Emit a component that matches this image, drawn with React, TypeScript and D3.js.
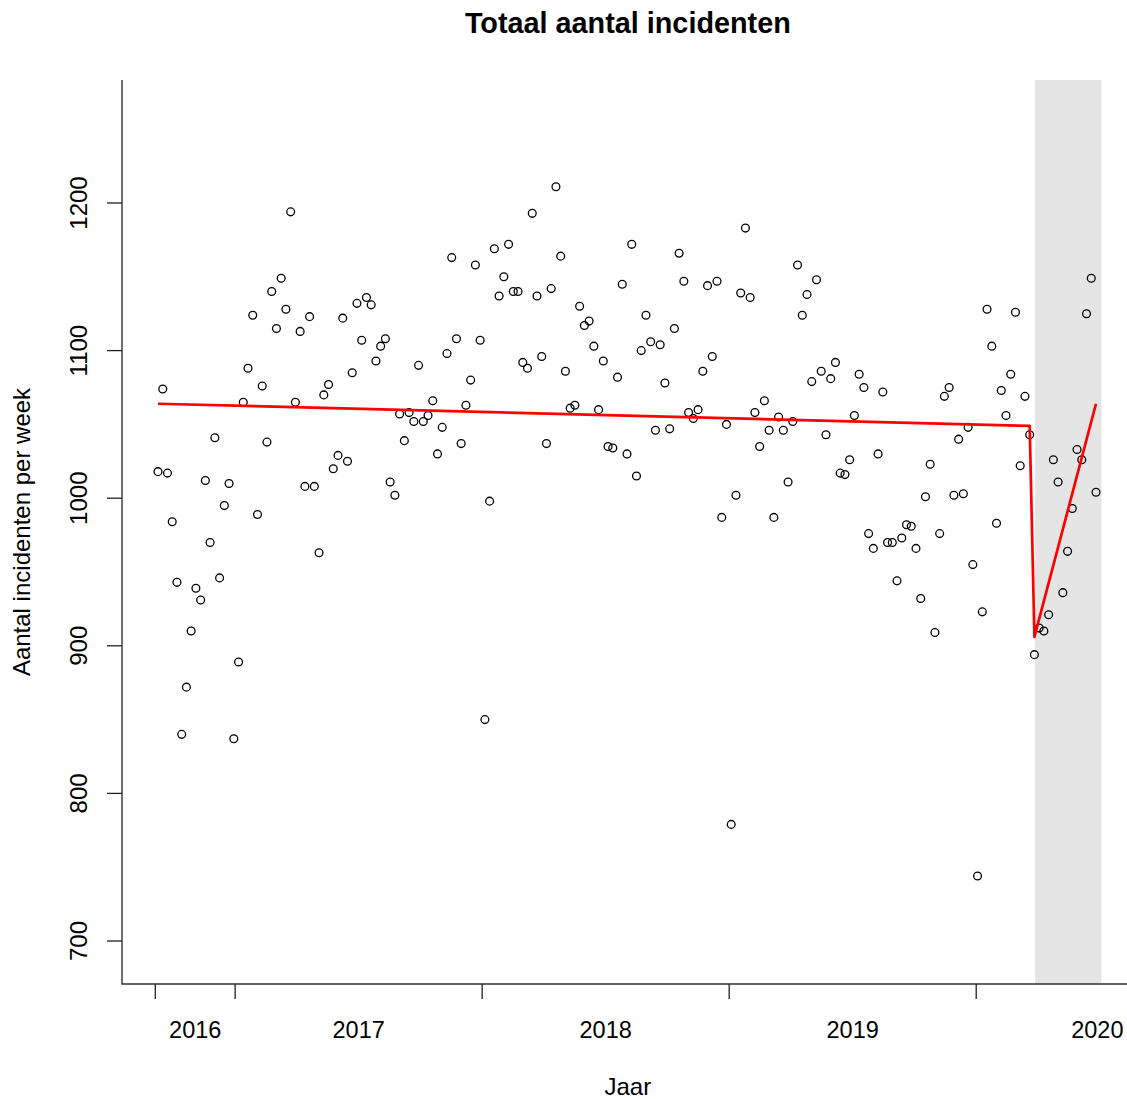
import React, { useEffect, useRef } from "react";
import * as d3 from "d3";

// weekly incident counts (Sep 2016 - Jun 2020)
const weeklyIncidents = [
  1018, 1074, 1017, 984, 943, 840, 872, 910, 939, 931,
  1012, 970, 1041, 946, 995, 1010, 837, 889, 1065, 1088,
  1124, 989, 1076, 1038, 1140, 1115, 1149, 1128, 1194, 1065,
  1113, 1008, 1123, 1008, 963, 1070, 1077, 1020, 1029, 1122,
  1025, 1085, 1132, 1107, 1136, 1131, 1093, 1103, 1108, 1011,
  1002, 1057, 1039, 1058, 1052, 1090, 1052, 1056, 1066, 1030,
  1048, 1098, 1163, 1108, 1037, 1063, 1080, 1158, 1107, 850,
  998, 1169, 1137, 1150, 1172, 1140, 1140, 1092, 1088, 1193,
  1137, 1096, 1037, 1142, 1211, 1164, 1086, 1061, 1063, 1130,
  1117, 1120, 1103, 1060, 1093, 1035, 1034, 1082, 1145, 1030,
  1172, 1015, 1100, 1124, 1106, 1046, 1104, 1078, 1047, 1115,
  1166, 1147, 1058, 1054, 1060, 1086, 1144, 1096, 1147, 987,
  1050, 779, 1002, 1139, 1183, 1136, 1058, 1035, 1066, 1046,
  987, 1055, 1046, 1011, 1052, 1158, 1124, 1138, 1079, 1148,
  1086, 1043, 1081, 1092, 1017, 1016, 1026, 1056, 1084, 1075,
  976, 966, 1030, 1072, 970, 970, 944, 973, 982, 981,
  966, 932, 1001, 1023, 909, 976, 1069, 1075, 1002, 1040,
  1003, 1048, 955, 744, 923, 1128, 1103, 983, 1073, 1056,
  1084, 1126, 1022, 1069, 1043, 894, 912, 910, 921, 1026,
  1011, 936, 964, 993, 1033, 1026, 1125, 1149, 1004,
];

// segmented trend (week index -> fitted value)
const trendWeeks = [0, 184, 185, 198];
const trendValues = [1064, 1049, 906, 1064];

const firstWeek = "2016-09-09";
const yearTicks = ["2016-09-05", "2017-01-01", "2018-01-01", "2019-01-01", "2020-01-01"];
const yearEnd = "2020-12-24";
const yearLabels = ["2016", "2017", "2018", "2019", "2020"];
const yTicks = [700, 800, 900, 1000, 1100, 1200];
const lockdownPeriod = ["2020-03-28", "2020-07-04"];

const font = "'Liberation Sans', Arial, Helvetica, sans-serif";

const App = () => {
  const ref = useRef(null);

  useEffect(() => {
    const width = 1127;
    const height = 1099;
    const box = { left: 122, right: 1136, top: 80, bottom: 984 };

    const parse = d3.timeParse("%Y-%m-%d");
    const start = parse(firstWeek);
    const weekDate = (i) => d3.timeDay.offset(start, i * 7);

    const svg = d3.select(ref.current);
    svg.selectAll("*").remove();
    svg.attr("width", width).attr("height", height);

    const x_scale = d3
      .scaleTime()
      .domain([weekDate(0), weekDate(weeklyIncidents.length - 1)])
      .range([158, 1096]);

    const y_scale = d3.scaleLinear().domain([700, 1200]).range([941, 203]);

    // lockdown band
    svg
      .append("rect")
      .attr("x", x_scale(parse(lockdownPeriod[0])))
      .attr("y", box.top)
      .attr("width", x_scale(parse(lockdownPeriod[1])) - x_scale(parse(lockdownPeriod[0])))
      .attr("height", box.bottom - box.top)
      .attr("fill", "#e5e5e5");

    svg
      .append("g")
      .selectAll("circle")
      .data(weeklyIncidents)
      .enter()
      .append("circle")
      .attr("cx", (d, i) => x_scale(weekDate(i)))
      .attr("cy", (d) => y_scale(d))
      .attr("r", 3.9)
      .attr("fill", "none")
      .attr("stroke", "#000")
      .attr("stroke-width", 1.3);

    const line = d3
      .line()
      .x((d) => x_scale(weekDate(d[0])))
      .y((d) => y_scale(d[1]));

    svg
      .append("path")
      .attr("d", line(trendWeeks.map((w, i) => [w, trendValues[i]])))
      .attr("fill", "none")
      .attr("stroke", "#ff0000")
      .attr("stroke-width", 2.7)
      .attr("stroke-linejoin", "round");

    // L-shaped box
    svg
      .append("path")
      .attr("d", `M${box.left},${box.top}V${box.bottom}H${box.right}`)
      .attr("fill", "none")
      .attr("stroke", "#333")
      .attr("stroke-width", 1.4);

    // x ticks and labels
    const tickDates = yearTicks.map(parse);
    svg
      .append("g")
      .selectAll("line")
      .data(tickDates)
      .enter()
      .append("line")
      .attr("x1", (d) => x_scale(d))
      .attr("x2", (d) => x_scale(d))
      .attr("y1", box.bottom)
      .attr("y2", box.bottom + 15)
      .attr("stroke", "#222")
      .attr("stroke-width", 1.3);

    const bounds = [...tickDates, parse(yearEnd)];
    svg
      .append("g")
      .selectAll("text")
      .data(yearLabels)
      .enter()
      .append("text")
      .attr("x", (d, i) => (x_scale(bounds[i]) + x_scale(bounds[i + 1])) / 2)
      .attr("y", 1038)
      .attr("text-anchor", "middle")
      .attr("font-family", font)
      .attr("font-size", 23.5)
      .attr("fill", "#000")
      .text((d) => d);

    // y ticks and labels
    svg
      .append("g")
      .selectAll("line")
      .data(yTicks)
      .enter()
      .append("line")
      .attr("x1", box.left - 15)
      .attr("x2", box.left)
      .attr("y1", (d) => y_scale(d))
      .attr("y2", (d) => y_scale(d))
      .attr("stroke", "#222")
      .attr("stroke-width", 1.3);

    svg
      .append("g")
      .selectAll("text")
      .data(yTicks)
      .enter()
      .append("text")
      .attr("transform", (d) => `translate(87,${y_scale(d)}) rotate(-90)`)
      .attr("text-anchor", "middle")
      .attr("font-family", font)
      .attr("font-size", 24)
      .attr("fill", "#000")
      .text((d) => d);

    // titles
    const midX = (120.4 + 1135.3) / 2;
    svg
      .append("text")
      .attr("x", midX)
      .attr("y", 33)
      .attr("text-anchor", "middle")
      .attr("font-family", font)
      .attr("font-size", 28.8)
      .attr("font-weight", "bold")
      .text("Totaal aantal incidenten");

    svg
      .append("text")
      .attr("x", midX)
      .attr("y", 1095)
      .attr("text-anchor", "middle")
      .attr("font-family", font)
      .attr("font-size", 24)
      .text("Jaar");

    svg
      .append("text")
      .attr("transform", `translate(30,${(box.top + box.bottom) / 2}) rotate(-90)`)
      .attr("text-anchor", "middle")
      .attr("font-family", font)
      .attr("font-size", 24)
      .text("Aantal incidenten per week");
  }, []);

  return (
    <div style={{ position: "absolute", top: 0, left: 0, width: 1127, height: 1099, overflow: "hidden", background: "#fff" }}>
      <svg ref={ref} style={{ display: "block" }}></svg>
    </div>
  );
};

export default App;
